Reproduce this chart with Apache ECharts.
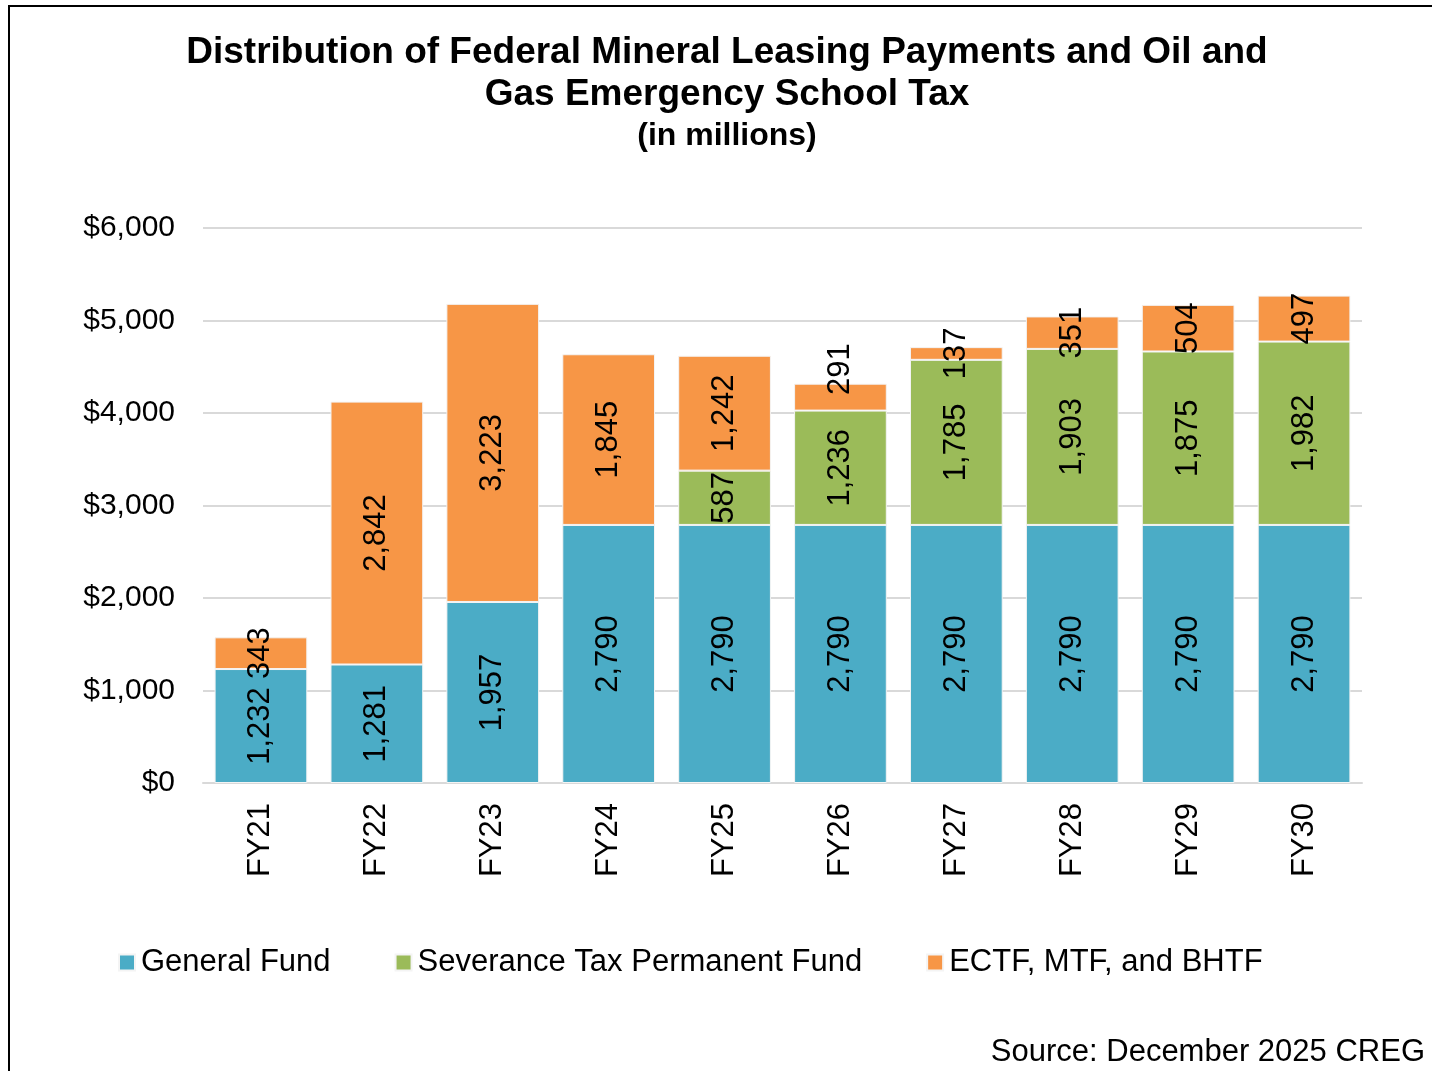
<!DOCTYPE html>
<html>
<head>
<meta charset="utf-8">
<script src="https://cdn.jsdelivr.net/npm/echarts@6/dist/echarts.min.js"></script>
<style>
  html, body { margin: 0; padding: 0; background: #fff; }
  #frame { position: absolute; left: 8px; top: 5px; width: 1440px; height: 1080px;
           border-left: 2px solid #000; border-top: 2px solid #000; }
  #chart { position: absolute; left: 0; top: 0; width: 1432px; height: 1071px; }
</style>
</head>
<body>
<div id="frame"></div>
<div id="chart"></div>
<script>
var years = ['FY21', 'FY22', 'FY23', 'FY24', 'FY25', 'FY26', 'FY27', 'FY28', 'FY29', 'FY30'];
var generalFund = [1232, 1281, 1957, 2790, 2790, 2790, 2790, 2790, 2790, 2790];
var severanceFund = [0, 0, 0, 0, 587, 1236, 1785, 1903, 1875, 1982];
var ectfFund = [343, 2842, 3223, 1845, 1242, 291, 137, 351, 504, 497];
var yTicks = [0, 1000, 2000, 3000, 4000, 5000, 6000];

var font = 'Liberation Sans, Arial, sans-serif';

var fundChart = function () {
    var myChart = echarts.init(document.getElementById('chart'));

    // labels nudged up where they would collide (as in the original)
    // offset is in the rotated label frame: +x goes up the bar
    function seg(name, data, color, nudge) {
        nudge = nudge || {};
        return {
            name: name,
            type: 'bar',
            stack: 'total',
            data: data.map(function (v, i) {
                return nudge[i] ? { value: v, label: { offset: nudge[i] } } : v;
            }),
            barCategoryGap: '20%',
            itemStyle: { color: color, borderColor: '#f4f4f4', borderWidth: 1 },
            label: {
                show: true,
                position: 'inside',
                rotate: 90,
                color: '#000',
                fontFamily: font,
                fontSize: 31,
                formatter: function (p) {
                    return p.value ? p.value.toLocaleString('en-US') : '';
                }
            }
        };
    }

    var option = {
        animation: false,
        title: [
            {
                text: 'Distribution of Federal Mineral Leasing Payments and Oil and\nGas Emergency School Tax',
                left: 722,
                textAlign: 'center',
                top: 27,
                textStyle: { fontFamily: font, fontSize: 37, fontWeight: 'bold', color: '#000', lineHeight: 42 }
            },
            {
                text: '(in millions)',
                left: 722,
                textAlign: 'center',
                top: 115,
                textStyle: { fontFamily: font, fontSize: 32, fontWeight: 'bold', color: '#000' }
            },
            {
                text: 'Source: December 2025 CREG',
                right: 2,
                top: 1032,
                textStyle: { fontFamily: font, fontSize: 31, fontWeight: 'normal', color: '#000' }
            }
        ],
        legend: {
            left: 113,
            top: 942,
            itemWidth: 16,
            itemHeight: 16,
            itemGap: 64,
            icon: 'rect',
            textStyle: { fontFamily: font, fontSize: 31, color: '#000', padding: [0, 0, 0, 1] },
            data: ['General Fund', 'Severance Tax Permanent Fund', 'ECTF, MTF, and BHTF']
        },
        grid: { left: 203, right: 70, top: 228, bottom: 288, containLabel: false },
        xAxis: {
            type: 'category',
            data: years,
            axisLine: { lineStyle: { color: '#d9d9d9', width: 2 } },
            axisTick: { show: false },
            axisLabel: { rotate: 90, color: '#000', fontFamily: font, fontSize: 31, margin: 20 }
        },
        yAxis: {
            type: 'value',
            min: yTicks[0],
            max: yTicks[yTicks.length - 1],
            interval: 1000,
            axisLine: { show: false },
            axisTick: { show: false },
            splitLine: { lineStyle: { color: '#d9d9d9', width: 2 } },
            axisLabel: {
                color: '#000', fontFamily: font, fontSize: 30, margin: 28,
                formatter: function (v) { return '$' + v.toLocaleString('en-US'); }
            }
        },
        series: [
            seg('General Fund', generalFund, '#4BACC6'),
            seg('Severance Tax Permanent Fund', severanceFund, '#9BBB59'),
            seg('ECTF, MTF, and BHTF', ectfFund, '#F79646', { 5: [28, 0] })
        ]
    };

    myChart.setOption(option);
};

fundChart();
</script>
</body>
</html>
